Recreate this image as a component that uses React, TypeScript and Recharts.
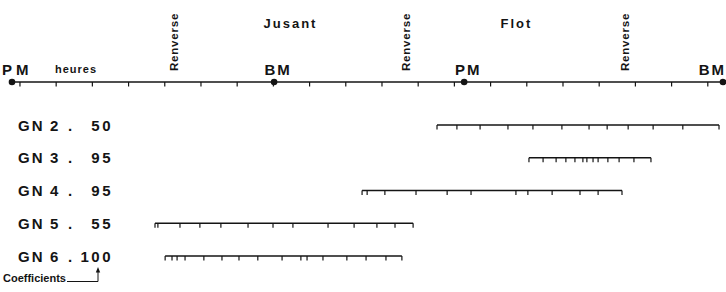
import { ScatterChart, Scatter, XAxis, YAxis, Label } from 'recharts';

const INK = '#141414';
const FONT = '"Liberation Sans", Arial, Helvetica, sans-serif';

// time axis, in hours
const HOUR_TICKS = [0, 1, 2, 3, 4, 5, 6, 7, 8, 9, 10, 11, 12, 13, 14, 15, 16, 17, 18, 19];
const TIDE_LABELS = ['PM', 'BM', 'PM', 'BM'];
const TIDE_HOURS = [-0.22, 7.02, 12.27, 19.42];
const SLACK_HOURS = [4.23, 10.66, 16.71];
const PHASE_LABELS = ['Jusant', 'Flot'];

// stations and tide coefficients
const ROW_NAMES = ['GN 2', 'GN 3', 'GN 4', 'GN 5', 'GN 6'];
const COEFFICIENTS = [50, 95, 95, 55, 100];

// measurement times for each station
const GN2_HOURS = [11.52, 12.07, 12.71, 13.48, 14.17, 14.97, 15.72, 16.22, 16.8, 17.49, 18.31, 19.31];
const GN3_HOURS = [14.06, 14.45, 14.81, 15.08, 15.33, 15.55, 15.66, 15.83, 15.97, 16.24, 16.55, 16.96, 17.43];
const GN4_HOURS = [9.45, 9.59, 10.08, 10.94, 11.8, 12.46, 13.7, 14.03, 14.7, 15.47, 15.97, 16.63];
const GN5_HOURS = [3.73, 3.81, 4.42, 4.97, 5.55, 6.3, 6.99, 7.54, 8.51, 9.23, 9.86, 10.36, 10.86];
const GN6_HOURS = [4.01, 4.2, 4.34, 4.56, 5.08, 5.58, 6.05, 6.57, 7.24, 7.76, 7.93, 8.37, 9.03, 9.56, 10.11, 10.55];
const ROW_HOURS = [GN2_HOURS, GN3_HOURS, GN4_HOURS, GN5_HOURS, GN6_HOURS];

const AXIS_ROW = -1.313;
const X_DOMAIN = [TIDE_HOURS[0], TIDE_HOURS[TIDE_HOURS.length - 1]];

const tideData = TIDE_LABELS.map((label, i) => ({ h: TIDE_HOURS[i], row: AXIS_ROW, label, i }));
const slackData = SLACK_HOURS.map((h) => ({ h, row: AXIS_ROW }));
const phaseData = PHASE_LABELS.map((label, i) => ({
  h: (SLACK_HOURS[i] + SLACK_HOURS[i + 1]) / 2,
  row: AXIS_ROW,
  label,
}));
const rowData = ROW_HOURS.map((hours, r) => hours.map((h) => ({ h, row: r })));

function TideMark(props: any) {
  const { cx, cy, payload } = props;
  const last = payload.i === TIDE_LABELS.length - 1;
  const first = payload.i === 0;
  const anchor = first ? 'start' : last ? 'end' : 'middle';
  const tx = first ? cx - 10 : last ? cx + 3 : cx + 4;
  return (
    <g>
      <circle cx={cx} cy={cy} r={3.3} fill={INK} />
      <text x={tx} y={cy - 7} textAnchor={anchor} fontFamily={FONT} fontWeight="bold"
        fontSize={15} letterSpacing={first ? 4 : 2} fill={INK}>
        {payload.label}
      </text>
    </g>
  );
}

function SlackMark(props: any) {
  const { cx, cy } = props;
  return (
    <text transform={`translate(${cx + 4.5}, ${cy - 40}) rotate(-90)`} textAnchor="middle"
      fontFamily={FONT} fontWeight="bold" fontSize={11.5} letterSpacing={0.8} fill={INK}>
      Renverse
    </text>
  );
}

function PhaseMark(props: any) {
  const { cx, cy, payload } = props;
  return (
    <text x={cx + 1} y={cy - 54} textAnchor="middle" fontFamily={FONT} fontWeight="bold"
      fontSize={13} letterSpacing={2} fill={INK}>
      {payload.label}
    </text>
  );
}

function HourTick(props: any) {
  const { cx, cy } = props;
  return <line x1={cx} y1={cy} x2={cx} y2={cy + 4.5} stroke={INK} strokeWidth={1.2} />;
}

function NoLabel() {
  return <g />;
}

function RowLabel(props: any) {
  const { y, payload } = props;
  const r = payload.value;
  const [gn, num] = ROW_NAMES[r].split(' ');
  const base = y + 5.6;
  return (
    <g fontFamily={FONT} fontWeight="bold" fontSize={15} fill={INK}>
      <text x={18} y={base} letterSpacing={2}>{gn}</text>
      <text x={50} y={base}>{num}</text>
      <text x={68} y={base}>.</text>
      <text x={113} y={base} textAnchor="end" letterSpacing={2.5}>{COEFFICIENTS[r]}</text>
      {r === ROW_NAMES.length - 1 && (
        <g>
          <text x={3} y={y + 26} fontSize={11} letterSpacing={0}>Coefficients</text>
          <path d={`M 67 ${y + 25.5} H 98 V ${y + 15}`} fill="none" stroke={INK} strokeWidth={1} />
          <path d={`M 98 ${y + 11} L 95.8 ${y + 16.5} L 100.2 ${y + 16.5} Z`} fill={INK} />
        </g>
      )}
    </g>
  );
}

function HeuresLabel(props: any) {
  const { viewBox } = props;
  return (
    <text x={viewBox.x + 43} y={viewBox.y - 9} fontFamily={FONT} fontWeight="bold"
      fontSize={11} letterSpacing={1} fill={INK}>
      heures
    </text>
  );
}

export default function App() {
  return (
    <div style={{ position: 'absolute', left: 0, top: 0, width: 726, height: 292, background: '#fff' }}>
      <ScatterChart width={726} height={292} margin={{ top: 82, right: 3, bottom: 2, left: 12 }}>
        <XAxis
          type="number"
          dataKey="h"
          domain={X_DOMAIN}
          ticks={HOUR_TICKS}
          interval={0}
          orientation="top"
          mirror
          tick={NoLabel}
          tickSize={4.5}
          axisLine={{ stroke: INK, strokeWidth: 1.4 }}
          tickLine={{ stroke: INK, strokeWidth: 1.2 }}
        >
          <Label content={HeuresLabel} />
        </XAxis>
        <YAxis
          type="number"
          dataKey="row"
          domain={[AXIS_ROW, 5.038]}
          reversed
          ticks={[0, 1, 2, 3, 4]}
          interval={0}
          mirror
          axisLine={false}
          tickLine={false}
          tick={RowLabel}
        />
        {rowData.map((pts, r) => (
          <Scatter
            key={ROW_NAMES[r]}
            data={pts}
            line={{ stroke: INK, strokeWidth: 1.3 }}
            lineType="joint"
            shape={HourTick}
            isAnimationActive={false}
          />
        ))}
        <Scatter data={slackData} shape={SlackMark} isAnimationActive={false} />
        <Scatter data={phaseData} shape={PhaseMark} isAnimationActive={false} />
        <Scatter data={tideData} shape={TideMark} isAnimationActive={false} />
      </ScatterChart>
    </div>
  );
}
